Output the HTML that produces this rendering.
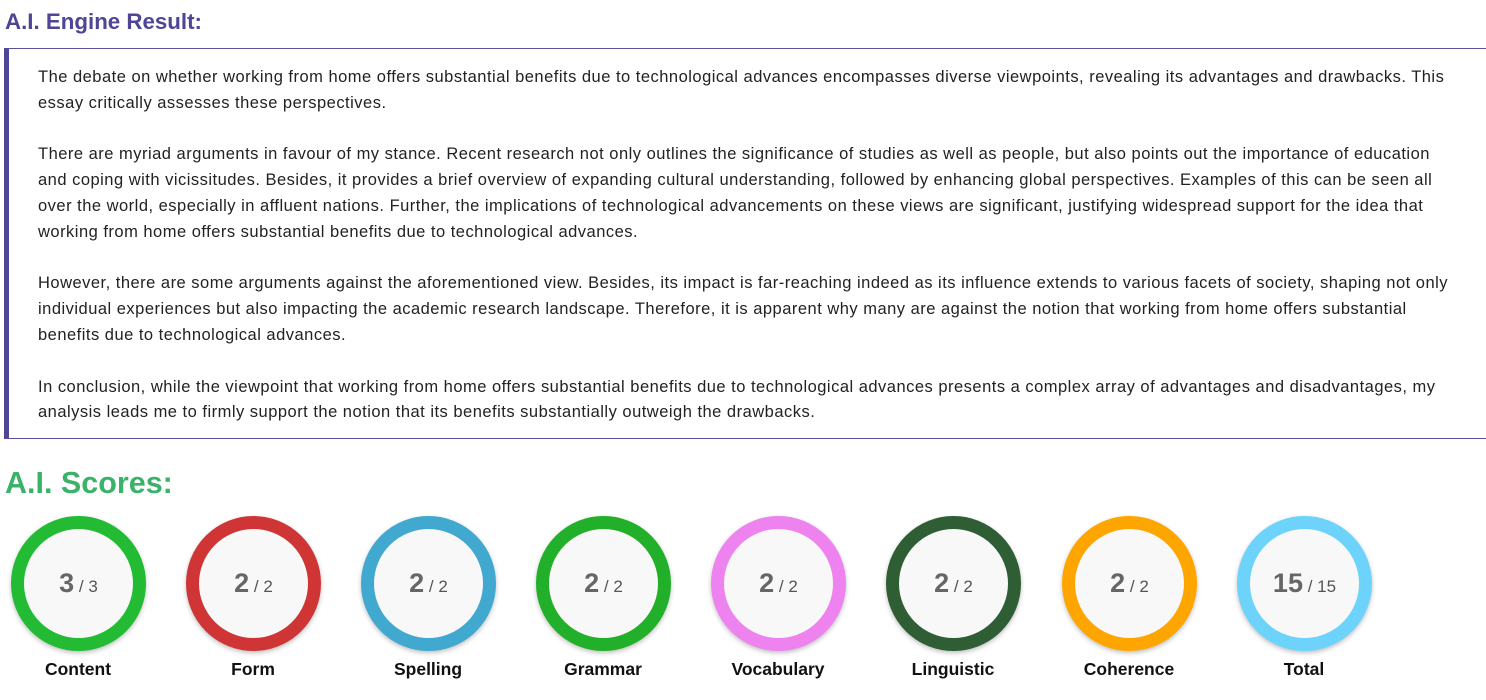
<!DOCTYPE html>
<html><head><meta charset="utf-8"><style>
body{margin:0;width:1486px;height:700px;background:#fff;font-family:"Liberation Sans",sans-serif;position:relative;overflow:hidden}
.t1{position:absolute;left:5px;top:9px;font-size:22.3px;font-weight:bold;color:#4e4597}
.box{position:absolute;left:4px;top:48px;width:1482px;height:391px;border-top:1px solid #5a5296;border-bottom:1px solid #5a5296;border-left:5px solid #4e4597;box-sizing:border-box}
.txt{position:absolute;left:38px;top:65px;font-size:16.5px;letter-spacing:0.49px;line-height:25.8px;color:#222;white-space:nowrap}
.txt p{margin:0 0 25.8px 0}
.t2{position:absolute;left:5px;top:466px;font-size:30.5px;font-weight:bold;color:#3bb26a}
.c{position:absolute;top:516px;width:135px;height:135px;border-radius:50%;box-sizing:border-box;border:13px solid;background:#f8f8f8;box-shadow:0 2px 5px rgba(0,0,0,.25);text-align:center;line-height:109px;color:#666;font-weight:bold}
.c b{font-size:27px}.c span{font-size:17px;font-weight:normal;color:#555}
.l{position:absolute;top:659px;width:160px;text-align:center;font-size:17.5px;font-weight:bold;color:#111}
</style></head><body>
<div class="t1">A.I. Engine Result:</div>
<div class="box"></div>
<div class="txt">
<p>The debate on whether working from home offers substantial benefits due to technological advances encompasses diverse viewpoints, revealing its advantages and drawbacks. This<br>essay critically assesses these perspectives.</p>
<p>There are myriad arguments in favour of my stance. Recent research not only outlines the significance of studies as well as people, but also points out the importance of education<br>and coping with vicissitudes. Besides, it provides a brief overview of expanding cultural understanding, followed by enhancing global perspectives. Examples of this can be seen all<br>over the world, especially in affluent nations. Further, the implications of technological advancements on these views are significant, justifying widespread support for the idea that<br>working from home offers substantial benefits due to technological advances.</p>
<p>However, there are some arguments against the aforementioned view. Besides, its impact is far-reaching indeed as its influence extends to various facets of society, shaping not only<br>individual experiences but also impacting the academic research landscape. Therefore, it is apparent why many are against the notion that working from home offers substantial<br>benefits due to technological advances.</p>
<p>In conclusion, while the viewpoint that working from home offers substantial benefits due to technological advances presents a complex array of advantages and disadvantages, my<br>analysis leads me to firmly support the notion that its benefits substantially outweigh the drawbacks.</p>
</div>
<div class="t2">A.I. Scores:</div>
<div class="c" style="left:11px;border-color:#22bb33"><b>3</b><span> / 3</span></div>
<div class="c" style="left:186px;border-color:#d03535"><b>2</b><span> / 2</span></div>
<div class="c" style="left:361px;border-color:#41a8cf"><b>2</b><span> / 2</span></div>
<div class="c" style="left:536px;border-color:#22b02a"><b>2</b><span> / 2</span></div>
<div class="c" style="left:711px;border-color:#ee82ee"><b>2</b><span> / 2</span></div>
<div class="c" style="left:886px;border-color:#2f5e35"><b>2</b><span> / 2</span></div>
<div class="c" style="left:1062px;border-color:#ffa500"><b>2</b><span> / 2</span></div>
<div class="c" style="left:1237px;border-color:#6dd3fb"><b>15</b><span> / 15</span></div>
<div class="l" style="left:-2px">Content</div>
<div class="l" style="left:173px">Form</div>
<div class="l" style="left:348px">Spelling</div>
<div class="l" style="left:523px">Grammar</div>
<div class="l" style="left:698px">Vocabulary</div>
<div class="l" style="left:873px">Linguistic</div>
<div class="l" style="left:1049px">Coherence</div>
<div class="l" style="left:1224px">Total</div>
</body></html>
